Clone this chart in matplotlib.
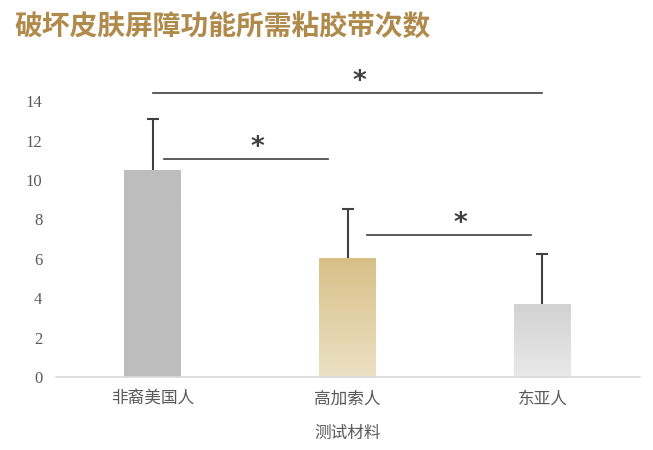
import matplotlib.pyplot as plt
import numpy as np

plt.rcParams['font.family'] = ['Noto Sans CJK SC', 'DejaVu Sans']

# data
groups = ['非裔美国人', '高加索人', '东亚人']
means = [10.5, 6.05, 3.7]
errs = [2.6, 2.5, 2.55]
# (left, right, height) of each significance bracket in data units
sig = [(0.0, 2.0, 14.4), (0.06, 0.9, 11.07), (1.1, 1.94, 7.2)]

# top / bottom colours for the gradient fills
bar_cols = [('#bdbdbd', '#bdbdbd'), ('#d8bf88', '#ece1c3'), ('#d2d2d2', '#e9e9e9')]

fig = plt.figure(figsize=(6.53, 4.5), dpi=100)
ax = fig.add_axes([0.086, 0.162, 0.894, 0.6134])

x = np.arange(len(groups))
bars = ax.bar(x, means, width=0.29, color='none', zorder=2)
for b, (top, bot) in zip(bars, bar_cols):
    c1 = np.array(plt.matplotlib.colors.to_rgb(top))
    c2 = np.array(plt.matplotlib.colors.to_rgb(bot))
    t = np.linspace(0, 1, 100)[:, None]
    img = (c1 * (1 - t) + c2 * t)[:, None, :]
    x0, y0 = b.get_x(), b.get_y()
    im = ax.imshow(img, extent=[x0, x0 + b.get_width(), y0, y0 + b.get_height()],
                   aspect='auto', zorder=2, origin='upper')
    im.set_clip_path(b)

# upper error bars only
tops = np.array(means) + np.array(errs)
ax.vlines(x, means, tops, color='#404040', lw=1.5, zorder=3)
ax.plot(x, tops, ls='none', marker='_', ms=9, mew=1.5, color='#404040', zorder=3)

for l, r, h in sig:
    ax.plot([l, r], [h, h], color='#404040', lw=1.2, clip_on=False)
    ax.text((l + r) / 2 + 0.06, h - 0.1, '*', ha='center', va='bottom', fontsize=19,
            fontweight='bold', color='#404040', family='DejaVu Sans')

ax.set_xlim(-0.495, 2.5)
ax.set_ylim(0, 14)
ax.set_yticks(range(0, 15, 2))
ax.set_xticks(x)
ax.set_xticklabels(groups, fontsize=12, color='#595959')
ax.tick_params(axis='y', labelsize=12, labelcolor='#595959', length=0, pad=10)
ax.tick_params(axis='x', length=0, pad=10)
for tl in ax.get_yticklabels():
    tl.set_family('Liberation Serif')
for s in ['top', 'right', 'left']:
    ax.spines[s].set_visible(False)
ax.spines['bottom'].set_color('#d9d9d9')
ax.spines['bottom'].set_linewidth(1.2)
ax.set_xlabel('测试材料', fontsize=12, color='#595959', labelpad=12)

fig.text(0.022, 0.94, '破坏皮肤屏障功能所需粘胶带次数', fontsize=20, fontweight='bold',
         color='#b08a4a', va='center', ha='left')

fig.savefig('out.png', dpi=100)
